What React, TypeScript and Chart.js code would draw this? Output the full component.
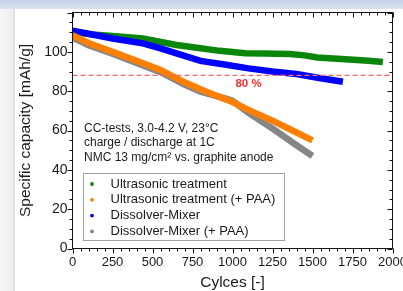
import React, { useEffect, useRef } from 'react';
import { Chart, registerables } from 'chart.js';

Chart.register(...registerables);

const FONT = '"Liberation Sans", Arial, Helvetica, sans-serif';

// ---- data ----
const seriesLabels = [
  'Ultrasonic treatment',
  'Ultrasonic treatment (+ PAA)',
  'Dissolver-Mixer',
  'Dissolver-Mixer (+ PAA)',
];
const seriesColors = ['#0a870a', '#ff8000', '#0000ff', '#868686'];

const ultrasonicCycles = [0, 100, 250, 440, 650, 800, 920, 1080, 1200, 1360, 1450, 1530, 1730, 1850, 1940];
const ultrasonicCapacity = [110.2, 109, 108, 106.8, 103.5, 101.8, 100.5, 99.3, 99.1, 98.9, 98.2, 97.1, 96.1, 95.5, 94.8];

const ultrasonicPaaCycles = [0, 50, 100, 250, 400, 550, 700, 800, 950, 1000, 1100, 1250, 1400, 1500];
const ultrasonicPaaCapacity = [108.5, 106.5, 104.5, 100, 95.5, 90.8, 84.5, 81, 76, 74.5, 70.5, 65, 59, 55];

const dissolverCycles = [0, 100, 250, 440, 550, 650, 800, 950, 1100, 1250, 1400, 1550, 1690];
const dissolverCapacity = [110.8, 109.2, 106.8, 104.3, 101.8, 99.2, 95.4, 93.6, 91.6, 90, 88.7, 86.6, 84.8];

const dissolverPaaCycles = [0, 50, 100, 250, 400, 550, 700, 800, 950, 1000, 1050, 1100, 1250, 1400, 1500];
const dissolverPaaCapacity = [107.2, 105.3, 103.3, 99, 94.3, 89.7, 83.3, 79.8, 76.4, 75.2, 72, 69, 61, 52.5, 47];

const thresholdCycles = [0, 2000];
const thresholdCapacity = 88;
const thresholdLabel = '80 %';
const thresholdLabelPos = { cycle: 1100, capacity: 83.5 };

const xMin = 0, xMax = 2000, xMajorStep = 250, xMinorStep = 50;
const yMin = 0, yMax = 120, yMajorStep = 20, yMinorStep = 5;
const hiddenYTickLabels = [120];

const xTitle = 'Cylces [-]';
const yTitle = 'Specific capacity [mAh/g]';

const noteLines = [
  'CC-tests, 3.0-4.2 V, 23°C',
  'charge / discharge at 1C',
  'NMC 13 mg/cm² vs. graphite anode',
];

const toPoints = (xs: number[], ys: number[]) => xs.map((x, i) => ({ x, y: ys[i] }));

const decorPlugin = {
  id: 'decor',
  afterDatasetsDraw(chart: any) {
    const { ctx, chartArea: a, scales } = chart;
    const xs = scales.x;
    const ys = scales.y;
    ctx.save();
    ctx.strokeStyle = '#151515';
    ctx.lineWidth = 1;
    ctx.strokeRect(a.left, a.top, a.right - a.left, a.bottom - a.top);
    ctx.beginPath();
    for (let v = xMin; v <= xMax; v += xMinorStep) {
      const px = Math.round(xs.getPixelForValue(v)) + 0.5;
      const L = v % xMajorStep === 0 ? 5 : 3;
      ctx.moveTo(px, a.bottom);
      ctx.lineTo(px, a.bottom + L);
      ctx.moveTo(px, a.top);
      ctx.lineTo(px, a.top + L);
    }
    for (let v = yMin; v <= yMax; v += yMinorStep) {
      const py = Math.round(ys.getPixelForValue(v)) + 0.5;
      const L = v % yMajorStep === 0 ? 5 : 3;
      ctx.moveTo(a.left, py);
      ctx.lineTo(a.left - L, py);
      ctx.moveTo(a.right, py);
      ctx.lineTo(a.right - L, py);
    }
    ctx.stroke();

    // threshold label
    ctx.fillStyle = '#f03030';
    ctx.font = `bold 11.5px ${FONT}`;
    ctx.textAlign = 'center';
    ctx.textBaseline = 'middle';
    ctx.fillText(
      thresholdLabel,
      xs.getPixelForValue(thresholdLabelPos.cycle),
      ys.getPixelForValue(thresholdLabelPos.capacity)
    );

    // notes
    ctx.fillStyle = '#1a1a1a';
    ctx.font = `12px ${FONT}`;
    ctx.textAlign = 'left';
    noteLines.forEach((t, i) => {
      ctx.fillText(t, a.left + 11.5, a.top + 116 + i * 14.6);
    });

    // legend
    const bx = a.left + 11;
    const by = a.top + 161;
    const bw = 201;
    const bh = 67;
    ctx.strokeStyle = '#a0a0a0';
    ctx.strokeRect(bx, by, bw, bh);
    ctx.font = `13px ${FONT}`;
    seriesLabels.forEach((lab, i) => {
      const cy = by + 10.5 + i * 15.8;
      ctx.fillStyle = seriesColors[i];
      ctx.beginPath();
      ctx.arc(bx + 8.5, cy, 1.9, 0, Math.PI * 2);
      ctx.fill();
      ctx.fillStyle = '#1a1a1a';
      ctx.fillText(lab, bx + 27, cy);
    });
    ctx.restore();
  },
};

export default function App() {
  const ref = useRef<HTMLCanvasElement | null>(null);

  useEffect(() => {
    if (!ref.current) return;
    const lineDs = (i: number, data: any[], order: number) => ({
      label: seriesLabels[i],
      data,
      borderColor: seriesColors[i],
      backgroundColor: seriesColors[i],
      borderWidth: 6.5,
      pointRadius: 0,
      tension: 0,
      order,
    });
    const chart = new Chart(ref.current, {
      type: 'line',
      data: {
        datasets: [
          lineDs(0, toPoints(ultrasonicCycles, ultrasonicCapacity), 4),
          lineDs(1, toPoints(ultrasonicPaaCycles, ultrasonicPaaCapacity), 1),
          lineDs(2, toPoints(dissolverCycles, dissolverCapacity), 3),
          lineDs(3, toPoints(dissolverPaaCycles, dissolverPaaCapacity), 2),
          {
            label: 'threshold',
            data: thresholdCycles.map((x) => ({ x, y: thresholdCapacity })),
            borderColor: '#f26666',
            borderWidth: 1.3,
            borderDash: [5, 3],
            pointRadius: 0,
            order: 0,
          },
        ],
      },
      options: {
        animation: false,
        responsive: false,
        devicePixelRatio: 1,
        layout: { padding: { left: 0, top: 12.5, right: 10.5, bottom: 0 } },
        plugins: { legend: { display: false }, tooltip: { enabled: false } },
        scales: {
          x: {
            type: 'linear',
            min: xMin,
            max: xMax,
            grid: { display: false, drawTicks: false },
            border: { display: false },
            ticks: {
              stepSize: xMajorStep,
              autoSkip: false,
              maxRotation: 0,
              padding: 6,
              color: '#1a1a1a',
              font: { family: FONT, size: 13 },
              callback: (v: any) => String(v),
            },
            title: {
              display: true,
              text: xTitle,
              color: '#1a1a1a',
              font: { family: FONT, size: 15.5 },
              padding: { top: 0, bottom: -1.5 },
            },
            afterFit(s: any) {
              s.height = 42.5;
              s.paddingLeft = 0;
              s.paddingRight = 0;
            },
          },
          y: {
            type: 'linear',
            min: yMin,
            max: yMax,
            grid: { display: false, drawTicks: false },
            border: { display: false },
            ticks: {
              stepSize: yMajorStep,
              padding: 5,
              color: '#1a1a1a',
              font: { family: FONT, size: 14 },
              callback: (v: any) => (hiddenYTickLabels.includes(Number(v)) ? '' : String(v)),
            },
            title: {
              display: true,
              text: yTitle,
              color: '#1a1a1a',
              font: { family: FONT, size: 15.5 },
              padding: { top: 16, bottom: 0 },
            },
            afterFit(s: any) {
              s.width = 72.5;
              s.paddingTop = 0;
              s.paddingBottom = 0;
            },
          },
        },
      },
      plugins: [decorPlugin],
    } as any);
    return () => chart.destroy();
  }, []);

  return (
    <div
      style={{
        position: 'fixed',
        left: 0,
        top: 0,
        width: 403,
        height: 291,
        overflow: 'hidden',
        background: '#ffffff',
      }}
    >
      <div
        style={{
          position: 'absolute',
          left: 0,
          top: 0,
          width: 403,
          height: 9,
          background: 'linear-gradient(to bottom, #c3cfe8, #dde4f2)',
        }}
      />
      <div
        style={{
          position: 'absolute',
          left: 0,
          top: 9,
          width: 15,
          height: 282,
          background: 'linear-gradient(to right, #f7f7f7 0%, #efefef 80%, #dcdcdc 100%)',
        }}
      />
      <canvas
        ref={ref}
        width={403}
        height={291}
        style={{ position: 'absolute', left: 0, top: 0, width: 403, height: 291, display: 'block' }}
      />
    </div>
  );
}
